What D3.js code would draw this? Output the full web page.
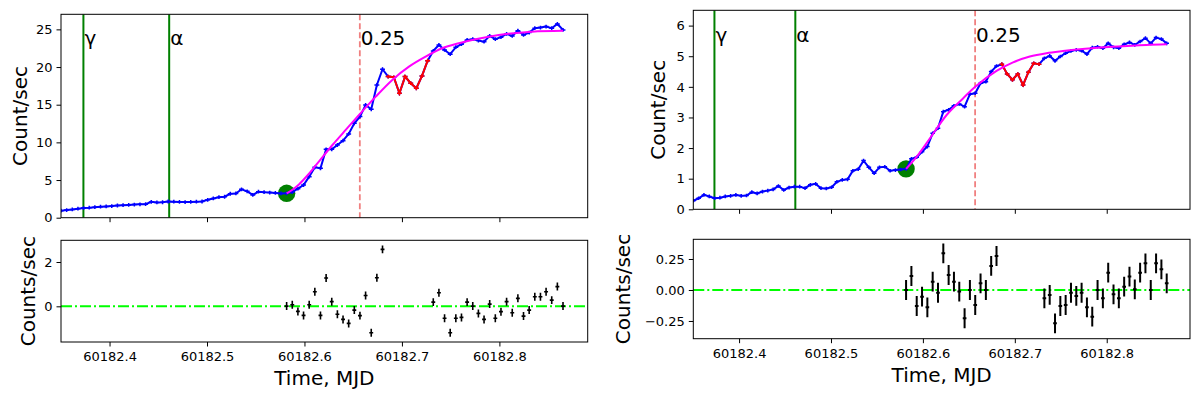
<!DOCTYPE html>
<html>
<head>
<meta charset="utf-8">
<script src="https://cdn.jsdelivr.net/npm/d3@7"></script>
<style>
  body { margin: 0; background: #fff; }
  text { font-family: "DejaVu Sans", sans-serif; }
</style>
</head>
<body>
<div id="chart"></div>
<script>
var svgWidth = 1200;
var svgHeight = 399;

// bin centres (MJD), 500 s bins
var times = [
  60182.35022, 60182.35601, 60182.36179, 60182.36758, 60182.37337, 60182.37915, 60182.38494, 60182.39073,
  60182.39652, 60182.40230, 60182.40809, 60182.41388, 60182.41966, 60182.42545, 60182.43124, 60182.43703,
  60182.44281, 60182.44860, 60182.45439, 60182.46017, 60182.46596, 60182.47175, 60182.47753, 60182.48332,
  60182.48911, 60182.49490, 60182.50068, 60182.50647, 60182.51226, 60182.51804, 60182.52383, 60182.52962,
  60182.53541, 60182.54119, 60182.54698, 60182.55277, 60182.55855, 60182.56434, 60182.57013, 60182.57591,
  60182.58170, 60182.58749, 60182.59327, 60182.59906, 60182.60485, 60182.61064, 60182.61642, 60182.62221,
  60182.62800, 60182.63378, 60182.63957, 60182.64536, 60182.65114, 60182.65693, 60182.66272, 60182.66851,
  60182.67429, 60182.68008, 60182.68587, 60182.69165, 60182.69744, 60182.70323, 60182.70901, 60182.71480,
  60182.72059, 60182.72638, 60182.73216, 60182.73795, 60182.74374, 60182.74952, 60182.75531, 60182.76110,
  60182.76688, 60182.77267, 60182.77846, 60182.78425, 60182.79003, 60182.79582, 60182.80161, 60182.80739,
  60182.81318, 60182.81897, 60182.82475, 60182.83054, 60182.83633, 60182.84212, 60182.84790, 60182.85369,
  60182.85948, 60182.86526
];

// count rate, left panel
var leftRate = [
  0.93, 1.02, 1.10, 1.20, 1.28, 1.33, 1.40, 1.46, 1.50, 1.55, 1.62, 1.66, 1.70, 1.75, 1.78, 1.80,
  2.10, 2.02, 2.05, 2.15, 2.12, 2.10, 2.08, 2.10, 2.12, 2.15, 2.38, 2.55, 2.72, 2.78, 3.18, 3.22,
  3.77, 3.50, 3.02, 3.45, 3.38, 3.33, 3.28, 3.22,
  3.24, 3.41, 3.85, 4.34, 5.45, 6.69, 6.56, 9.08, 9.08, 9.65, 10.23, 11.12, 12.53, 13.42, 14.97, 14.39,
  17.62, 19.71, 18.73, 18.64, 16.52, 18.73, 17.85, 17.18, 18.82, 20.85, 22.14, 22.93, 22.27, 21.70,
  22.63, 23.03, 23.60, 23.69, 23.51, 23.37, 24.13, 23.69, 23.96, 24.40, 24.13, 24.83, 24.26, 24.57,
  25.15, 25.24, 25.37, 25.15, 25.72, 24.93
];

// count rate, right panel
var rightRate = [
  0.28, 0.36, 0.47, 0.42, 0.36, 0.38, 0.42, 0.44, 0.47, 0.44, 0.45, 0.56, 0.52, 0.58, 0.61, 0.65,
  0.76, 0.63, 0.71, 0.74, 0.74, 0.69, 0.80, 0.83, 0.69, 0.68, 0.72, 0.90, 0.96, 0.98, 1.26, 1.31,
  1.59, 1.37, 1.18, 1.37, 1.39, 1.26, 1.28, 1.30,
  1.32, 1.65, 1.70, 1.88, 2.05, 2.48, 2.65, 3.19, 3.25, 3.38, 3.44, 3.35, 3.76, 3.79, 4.12, 4.17,
  4.50, 4.68, 4.74, 4.42, 4.23, 4.42, 4.06, 4.48, 4.77, 4.74, 4.93, 5.01, 4.85, 4.99, 5.10, 5.17,
  5.21, 5.18, 5.07, 5.28, 5.31, 5.26, 5.42, 5.29, 5.26, 5.39, 5.45, 5.37, 5.48, 5.59, 5.42, 5.61,
  5.56, 5.42
];

// bins left out of the fit (drawn red), index range into times
var flareFirst = 58;
var flareLast = 65;
// fit starts here (green dot)
var fitStartIndex = 40;

// fitted model curves
var leftFitTimes = [60182.5817, 60182.5880, 60182.5946, 60182.6030, 60182.6120, 60182.6287, 60182.6430, 60182.6560,
  60182.6731, 60182.6901, 60182.7072, 60182.7243, 60182.7413, 60182.7584, 60182.7755, 60182.7993, 60182.8334, 60182.8653];
var leftFitRate = [3.24, 3.75, 4.45, 5.6, 7.0, 9.65, 11.75, 13.64,
  16.07, 18.29, 20.05, 21.38, 22.49, 23.16, 23.69, 24.26, 24.70, 24.82];
var rightFitTimes = [60182.5817, 60182.5933, 60182.6077, 60182.6258, 60182.6439, 60182.6569, 60182.6801, 60182.6981,
  60182.7163, 60182.7344, 60182.7524, 60182.7706, 60182.8067, 60182.8430, 60182.8653];
var rightFitRate = [1.32, 1.72, 2.32, 3.08, 3.63, 4.00, 4.52, 4.80,
  4.99, 5.10, 5.17, 5.23, 5.31, 5.37, 5.39];

// residuals of the fitted bins
var residTimes = [
  60182.58170, 60182.58749, 60182.59327, 60182.59906, 60182.60485, 60182.61064, 60182.61642, 60182.62221,
  60182.62800, 60182.63378, 60182.63957, 60182.64536, 60182.65114, 60182.65693, 60182.66272, 60182.66851,
  60182.67429, 60182.68008,
  60182.73216, 60182.73795, 60182.74374, 60182.74952, 60182.75531, 60182.76110, 60182.76688, 60182.77267,
  60182.77846, 60182.78425, 60182.79003, 60182.79582, 60182.80161, 60182.80739, 60182.81318, 60182.81897,
  60182.82475, 60182.83054, 60182.83633, 60182.84212, 60182.84790, 60182.85369, 60182.85948, 60182.86526
];
var leftResid = [
  0.01, 0.07, -0.23, -0.41, 0.07, 0.66, -0.41, 1.28, 0.21, -0.36, -0.59, -0.77, -0.17, -0.42, 0.49, -1.19,
  1.29, 2.57,
  0.19, 0.61, -0.54, -1.19, -0.54, -0.50, 0.19, 0.01, -0.32, -0.59, 0.10, -0.54, -0.24, 0.21, -0.29, 0.36,
  -0.44, -0.17, 0.43, 0.43, 0.66, 0.28, 0.89, 0.01
];
var rightResid = [
  0.00, 0.113, -0.129, -0.054, -0.14, 0.067, -0.022, 0.296, 0.121, 0.067, -0.013, -0.228, 0.0, -0.121, 0.054, 0.0,
  0.194, 0.274,
  -0.067, -0.040, -0.269, -0.129, -0.121, -0.022, -0.048, -0.022, -0.14, -0.215, 0.0, -0.067, 0.140, -0.035,
  -0.067, 0.027, 0.108, 0.005, 0.140, 0.215, 0.0, 0.215, 0.167, 0.054
];

// vertical markers
var markerTimes = [60182.3732, 60182.4612];
var markerNames = ["γ", "α"];
var quarterTime = 60182.6568;
var quarterLabel = "0.25";

var xTicks = [60182.4, 60182.5, 60182.6, 60182.7, 60182.8];
var xDomain = [60182.3502, 60182.8906];

var svg = d3.select("#chart")
  .append("svg")
  .attr("width", svgWidth)
  .attr("height", svgHeight);

var panels = [
  {
    name: "left", x0: 61, x1: 587.7,
    top: [14.3, 217.7], bottom: [240.3, 342],
    rate: leftRate, fitT: leftFitTimes, fitV: leftFitRate, resid: leftResid,
    yTop: [0, 27.0], yTopTicks: [0, 5, 10, 15, 20, 25], yTopFmt: d3.format("d"),
    yBot: [-1.61, 2.98], yBotTicks: [0, 2], yBotFmt: d3.format("d"),
    labelY: 22.9, rateErr: 0.25, residErr: 0.18, residWidth: 1.6,
    topLabelX: 26.5, botLabelX: 35
  },
  {
    name: "right", x0: 693.3, x1: 1190,
    top: [10.3, 209.3], bottom: [239.3, 338.7],
    rate: rightRate, fitT: rightFitTimes, fitV: rightFitRate, resid: rightResid,
    yTop: [0, 6.5], yTopTicks: [0, 1, 2, 3, 4, 5, 6], yTopFmt: d3.format("d"),
    yBot: [-0.393, 0.409], yBotTicks: [-0.25, 0, 0.25], yBotFmt: d3.format(".2f"),
    labelY: 5.48, rateErr: 0.06, residErr: 0.08, residWidth: 2,
    topLabelX: 665, botLabelX: 630
  }
];

function styleAxis(g) {
  g.attr("font-size", 13).attr("font-family", "DejaVu Sans, sans-serif");
  g.select(".domain").remove();
  g.selectAll(".tick line").attr("stroke", "#000").attr("stroke-width", 1);
  g.selectAll(".tick text").attr("fill", "#000");
}

function errorBars(g, pts, x, y, dx, dy, color, width) {
  var d = "";
  pts.forEach(function(p) {
    var cx = x(p.t), cy = y(p.v);
    d += "M" + x(p.t - dx) + "," + cy + "H" + x(p.t + dx);
    d += "M" + cx + "," + y(p.v - dy) + "V" + y(p.v + dy);
  });
  g.append("path").attr("d", d).attr("stroke", color).attr("stroke-width", width).attr("fill", "none");
}

panels.forEach(function(p) {
  var width = p.x1 - p.x0;
  var topH = p.top[1] - p.top[0];
  var botH = p.bottom[1] - p.bottom[0];

  var xScale = d3.scaleLinear().domain(xDomain).range([0, width]);
  var yTop = d3.scaleLinear().domain(p.yTop).range([topH, 0]);
  var yBot = d3.scaleLinear().domain(p.yBot).range([botH, 0]);

  // ---------- light curve ----------
  var chartGroup = svg.append("g")
    .attr("transform", `translate(${p.x0}, ${p.top[0]})`);

  svg.append("clipPath").attr("id", "clip-" + p.name)
    .append("rect").attr("width", width).attr("height", topH);

  var plot = chartGroup.append("g").attr("clip-path", `url(#clip-${p.name})`);

  markerTimes.forEach(function(t, i) {
    plot.append("line")
      .attr("x1", xScale(t)).attr("x2", xScale(t))
      .attr("y1", 0).attr("y2", topH)
      .attr("stroke", "green").attr("stroke-width", 2);
    chartGroup.append("text")
      .attr("x", xScale(t) + 1)
      .attr("y", yTop(p.labelY))
      .style("font-size", "20px")
      .text(markerNames[i]);
  });

  plot.append("line")
    .attr("x1", xScale(quarterTime)).attr("x2", xScale(quarterTime))
    .attr("y1", 0).attr("y2", topH)
    .attr("stroke", "#f08080").attr("stroke-width", 1.8)
    .attr("stroke-dasharray", "6,3");
  chartGroup.append("text")
    .attr("x", xScale(quarterTime) + 1)
    .attr("y", yTop(p.labelY))
    .style("font-size", "20px")
    .text(quarterLabel);

  // fit start marker
  plot.append("circle")
    .attr("cx", xScale(times[fitStartIndex]))
    .attr("cy", yTop(p.rate[fitStartIndex]))
    .attr("r", 8.7)
    .attr("fill", "green");

  var pts = times.map(function(t, i) { return {t: t, v: p.rate[i]}; });
  var line = d3.line().x(d => xScale(d.t)).y(d => yTop(d.v));

  plot.append("path")
    .datum(pts)
    .attr("d", line)
    .attr("fill", "none")
    .attr("stroke", "blue")
    .attr("stroke-width", 2);
  errorBars(plot, pts, xScale, yTop, 0.0025, p.rateErr, "blue", 1.5);

  var flarePts = pts.slice(flareFirst, flareLast + 1);
  plot.append("path")
    .datum(flarePts)
    .attr("d", line)
    .attr("fill", "none")
    .attr("stroke", "red")
    .attr("stroke-width", 2);
  errorBars(plot, flarePts, xScale, yTop, 0.0025, p.rateErr, "red", 1.5);

  var fitPts = p.fitT.map(function(t, i) { return {t: t, v: p.fitV[i]}; });
  plot.append("path")
    .datum(fitPts)
    .attr("d", d3.line().x(d => xScale(d.t)).y(d => yTop(d.v)).curve(d3.curveMonotoneX))
    .attr("fill", "none")
    .attr("stroke", "magenta")
    .attr("stroke-width", 2);

  chartGroup.append("g")
    .attr("transform", `translate(0, ${topH})`)
    .call(d3.axisBottom(xScale).tickValues(xTicks).tickSize(4.5).tickFormat(""))
    .call(styleAxis);
  chartGroup.append("g")
    .call(d3.axisLeft(yTop).tickValues(p.yTopTicks).tickSize(4.5).tickPadding(4).tickFormat(p.yTopFmt))
    .call(styleAxis);

  chartGroup.append("rect")
    .attr("width", width).attr("height", topH)
    .attr("fill", "none").attr("stroke", "#000").attr("stroke-width", 1);

  svg.append("text")
    .attr("transform", `translate(${p.topLabelX}, ${(p.top[0] + p.top[1]) / 2}) rotate(-90)`)
    .attr("text-anchor", "middle")
    .style("font-size", "20px")
    .text("Count/sec");

  // ---------- residuals ----------
  var residGroup = svg.append("g")
    .attr("transform", `translate(${p.x0}, ${p.bottom[0]})`);

  residGroup.append("line")
    .attr("x1", 0).attr("x2", width)
    .attr("y1", yBot(0)).attr("y2", yBot(0))
    .attr("stroke", "#00ff00").attr("stroke-width", 2)
    .attr("stroke-dasharray", "11,3,2,3");

  var residPts = residTimes.map(function(t, i) { return {t: t, v: p.resid[i]}; });
  errorBars(residGroup, residPts, xScale, yBot, 0.002, p.residErr, "#000", p.residWidth);

  residGroup.append("g")
    .attr("transform", `translate(0, ${botH})`)
    .call(d3.axisBottom(xScale).tickValues(xTicks).tickSize(4.5).tickPadding(5.5).tickFormat(d3.format(".1f")))
    .call(styleAxis);
  residGroup.append("g")
    .call(d3.axisLeft(yBot).tickValues(p.yBotTicks).tickSize(4.5).tickPadding(4).tickFormat(p.yBotFmt))
    .call(styleAxis);

  residGroup.append("rect")
    .attr("width", width).attr("height", botH)
    .attr("fill", "none").attr("stroke", "#000").attr("stroke-width", 1);

  svg.append("text")
    .attr("transform", `translate(${p.botLabelX}, ${(p.bottom[0] + p.bottom[1]) / 2}) rotate(-90)`)
    .attr("text-anchor", "middle")
    .style("font-size", "20px")
    .text("Counts/sec");

  svg.append("text")
    .attr("x", p.x0 + width / 2)
    .attr("y", p.bottom[1] + 43)
    .attr("text-anchor", "middle")
    .style("font-size", "20px")
    .text("Time, MJD");
});
</script>
</body>
</html>
